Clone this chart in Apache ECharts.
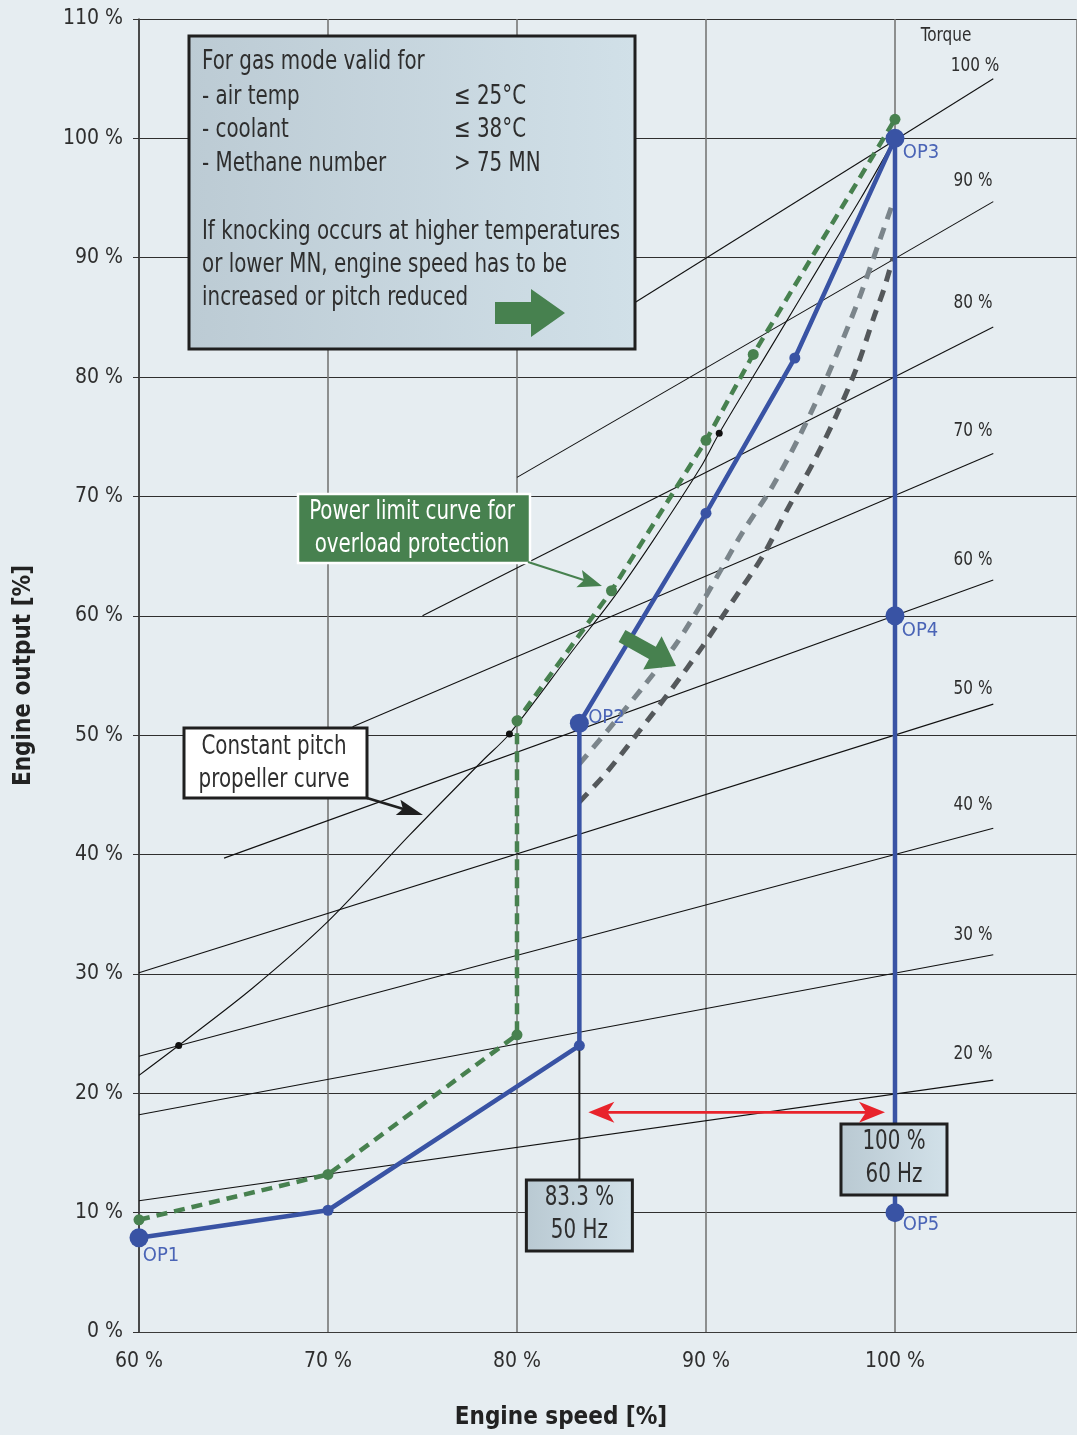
<!DOCTYPE html>
<html>
<head>
<meta charset="utf-8">
<title>Engine operating range – gas mode</title>
<script src="https://cdn.jsdelivr.net/npm/echarts@6/dist/echarts.min.js"></script>
<style>
  html, body { margin: 0; padding: 0; background: #e6edf1; }
  #chart { width: 1077px; height: 1435px; }
</style>
</head>
<body>
<div id="chart"></div>
<script>
// ---------- data ----------
const speedTicks = [60, 70, 80, 90, 100];
const outputTicks = [0, 10, 20, 30, 40, 50, 60, 70, 80, 90, 100, 110];

// operating line (engine speed %, engine output %)
const operatingLine = [[60, 7.9], [70, 10.2], [83.3, 24.0], [83.3, 51.0], [90, 68.6], [94.7, 81.6], [100, 100], [100, 60], [100, 10]];

const opNames = ['OP1', 'OP2', 'OP3', 'OP4', 'OP5'];
const opSpeed = [60, 83.3, 100, 100, 100];
const opOutput = [7.9, 51.0, 100, 60, 10];

// power limit curve for overload protection
const powerLimitCurve = [[60, 9.4], [70, 13.2], [80, 24.9], [80, 51.2], [85, 62.1], [90, 74.7], [92.5, 81.9], [100, 101.6]];

// operating line shifted by higher speed / reduced pitch
const shiftedLightCurve = [[83.3, 47.6], [84.8, 50.4], [86.7, 54.1], [88.4, 57.6], [89.9, 61.4], [91.9, 66.9], [93.5, 70.8], [94.9, 74.9], [96.1, 78.9], [97.2, 83.0], [98.2, 87.0], [99.2, 91.5], [99.8, 94.2]];
const shiftedDarkCurve = [[83.3, 44.4], [84.7, 46.8], [86.4, 50.2], [88.2, 53.9], [89.8, 57.4], [91.4, 61.2], [93.0, 65.0], [94.3, 68.9], [95.7, 72.9], [96.9, 76.8], [98.0, 80.9], [98.9, 85.1], [99.4, 87.3], [99.9, 90.0]];

// constant pitch propeller curve
const propellerCurve = [[60, 21.5], [62.1, 24.0], [66, 28.8], [70, 34.4], [74.3, 41.6], [78.2, 47.9], [79.6, 50.1], [83.0, 57.2], [85.1, 61.5], [87.2, 66.3], [89.7, 72.4], [90.7, 75.3], [93.7, 83.2], [96.2, 89.8], [98.2, 95.0], [100, 100]];
const propellerDots = [[62.1, 24.0], [79.6, 50.1], [90.7, 75.3]];

// constant torque lines
const torqueLabels = ['100 %', '90 %', '80 %', '70 %', '60 %', '50 %', '40 %', '30 %', '20 %'];
const torqueFrom = [[86.2, 86.2], [80.0, 71.6], [75.0, 60.0], [71.3, 50.7], [64.5, 39.7], [60, 30.1], [60, 23.1], [60, 18.2], [60, 11.0]];
const torqueTo = [[105.2, 105.0], [105.2, 94.7], [105.2, 84.2], [105.2, 73.6], [105.2, 63.0], [105.2, 52.6], [105.2, 42.2], [105.2, 31.6], [105.2, 21.1]];

// 50 Hz / 60 Hz speed range
const speedRange = [83.3, 100];
const speedRangeOutput = 18.4;
const rangeLabels = [['83.3 %', '50 Hz'], ['100 %', '60 Hz']];

const noteLines = ['For gas mode valid for', '- air temp', '- coolant', '- Methane number', '',
  'If knocking occurs at higher temperatures', 'or lower MN, engine speed has to be', 'increased or pitch reduced'];
const noteLimits = ['', '≤ 25°C', '≤ 38°C', '> 75 MN'];

// ---------- style ----------
const FONT = "'Liberation Sans Narrow', 'DejaVu Sans Condensed', 'Roboto Condensed', Roboto, sans-serif";
const TEXT = '#2e2e2e';
const BLUE = '#3953a4';
const BLUE_LABEL = '#4a64b6';
const GREEN = '#47814f';
const RED = '#e8232b';
const NARROW = 0.85;   // horizontal squeeze for the condensed annotation lettering

const chart = echarts.init(document.getElementById('chart'));

const opLabelOffset = { OP1: [22, 18], OP2: [27, -5], OP3: [26, 14], OP4: [25, 15], OP5: [26, 12] };

const option = {
  backgroundColor: '#e6edf1',
  animation: false,
  grid: { left: 139, right: 0, top: 19, bottom: 103 },
  xAxis: {
    type: 'value', min: 60, max: 109.63, interval: 10,
    axisLine: { show: true, lineStyle: { color: '#3a3a3a', width: 1.2 } },
    axisTick: { show: false },
    axisLabel: {
      margin: 19, fontFamily: FONT, fontSize: 21, color: TEXT, showMaxLabel: false,
      formatter: v => speedTicks.includes(v) ? v + ' %' : ''
    },
    splitLine: { show: true, lineStyle: { color: '#777', width: 1.6 } },
    name: 'Engine speed [%]', nameLocation: 'middle', nameGap: 74,
    nameTextStyle: { fontFamily: FONT, fontWeight: 'bold', fontSize: 24, color: '#222', padding: [0, 94, 0, 0] }
  },
  yAxis: {
    type: 'value', min: 0, max: 110, interval: 10,
    axisLine: { show: true, lineStyle: { color: '#333', width: 1.5 } },
    axisTick: { show: true, length: 6, lineStyle: { color: '#333' } },
    axisLabel: {
      margin: 16, fontFamily: FONT, fontSize: 21, color: TEXT,
      formatter: v => outputTicks.includes(v) ? v + ' %' : ''
    },
    splitLine: { show: true, lineStyle: { color: '#2f2f2f', width: 1.1 } },
    name: 'Engine output [%]', nameLocation: 'middle', nameGap: 103, nameRotate: 90,
    nameTextStyle: { fontFamily: FONT, fontWeight: 'bold', fontSize: 24, color: '#222' }
  },
  series: [
    {
      name: 'Torque', type: 'lines', coordinateSystem: 'cartesian2d', silent: true, z: 2,
      lineStyle: { color: '#111', width: 1.1, opacity: 1 },
      data: torqueFrom.map((p, i) => ({ name: torqueLabels[i], coords: [p, torqueTo[i]] }))
    },
    {
      name: 'Constant pitch propeller curve', type: 'line', data: propellerCurve, smooth: 0.3,
      showSymbol: false, z: 3, lineStyle: { color: '#111', width: 1.1 }
    },
    {
      type: 'scatter', data: propellerDots, symbolSize: 7, z: 4, itemStyle: { color: '#111', opacity: 1 }
    },
    {
      name: 'Shifted (light)', type: 'line', data: shiftedLightCurve, smooth: 0.3, showSymbol: false, z: 5,
      lineStyle: { color: '#7b858b', width: 5, type: [12, 9] }
    },
    {
      name: 'Shifted (dark)', type: 'line', data: shiftedDarkCurve, smooth: 0.3, showSymbol: false, z: 5,
      lineStyle: { color: '#54585b', width: 5, type: [12, 9] }
    },
    {
      name: 'Power limit curve', type: 'line', data: powerLimitCurve, z: 6,
      symbol: 'circle', symbolSize: 11, itemStyle: { color: GREEN },
      lineStyle: { color: GREEN, width: 4.5, type: [11, 7] }
    },
    {
      name: 'Operating line', type: 'line', data: operatingLine, z: 7,
      symbol: 'circle', symbolSize: 11, itemStyle: { color: BLUE },
      lineStyle: { color: BLUE, width: 4.5 }
    },
    {
      name: 'Operating points', type: 'scatter', z: 8, symbolSize: 19, itemStyle: { color: BLUE, opacity: 1 },
      data: opNames.map((n, i) => ({
        name: n, value: [opSpeed[i], opOutput[i]],
        label: { offset: opLabelOffset[n] }
      })),
      label: {
        show: true, position: 'inside', formatter: '{b}',
        fontFamily: FONT, fontSize: 20, color: BLUE_LABEL
      }
    }
  ]
};

chart.setOption(option);

// ---------- annotations ----------
const P = (x, y) => chart.convertToPixel({ gridIndex: 0 }, [x, y]);

function arrowHead(tip, from, len, half, notch) {
  const dx = tip[0] - from[0], dy = tip[1] - from[1], L = Math.hypot(dx, dy);
  const ux = dx / L, uy = dy / L, nx = -uy, ny = ux;
  const bx = tip[0] - ux * len, by = tip[1] - uy * len;
  return [tip, [bx + nx * half, by + ny * half], [tip[0] - ux * (len - notch), tip[1] - uy * (len - notch)], [bx - nx * half, by - ny * half]];
}
function fatArrow(from, tip, shaftHalf, headHalf, headLen) {
  const dx = tip[0] - from[0], dy = tip[1] - from[1], L = Math.hypot(dx, dy);
  const ux = dx / L, uy = dy / L, nx = -uy, ny = ux;
  const b = [tip[0] - ux * headLen, tip[1] - uy * headLen];
  return [
    [from[0] + nx * shaftHalf, from[1] + ny * shaftHalf], [b[0] + nx * shaftHalf, b[1] + ny * shaftHalf],
    [b[0] + nx * headHalf, b[1] + ny * headHalf], tip, [b[0] - nx * headHalf, b[1] - ny * headHalf],
    [b[0] - nx * shaftHalf, b[1] - ny * shaftHalf], [from[0] - nx * shaftHalf, from[1] - ny * shaftHalf]
  ];
}
const hGrad = (a, b) => ({ type: 'linear', x: 0, y: 0, x2: 1, y2: 0, colorStops: [{ offset: 0, color: a }, { offset: 1, color: b }] });
const txt = (text, x, y, size, fill, align) => ({
  type: 'text', x, y, scaleX: NARROW, z: 60, silent: true,
  style: { text, fontFamily: FONT, fontSize: size, fill: fill || TEXT, align: align || 'left', verticalAlign: 'middle' }
});

const g = [];

// note box
g.push({ type: 'rect', z: 55, shape: { x: 189, y: 36, width: 446, height: 313 },
  style: { fill: hGrad('#bccbd4', '#d1e0e8'), stroke: '#1f1f1f', lineWidth: 3 } });
const noteY = [62, 97, 130, 164, 198, 232, 265, 298];
noteLines.forEach((t, i) => { if (t) g.push(txt(t, 202, noteY[i], 26)); });
noteLimits.forEach((t, i) => { if (t) g.push(txt(t, 454, noteY[i], 26)); });
g.push({ type: 'polygon', z: 60, shape: { points: fatArrow([495, 313], [565, 313], 11, 24, 34) }, style: { fill: GREEN } });

// power limit label
g.push({ type: 'rect', z: 55, shape: { x: 298, y: 494, width: 232, height: 69 },
  style: { fill: GREEN, stroke: '#ffffff', lineWidth: 2.5 } });
g.push(txt('Power limit curve for', 412, 512, 26, '#ffffff', 'center'));
g.push(txt('overload protection', 412, 545, 26, '#ffffff', 'center'));
g.push({ type: 'line', z: 55, shape: { x1: 528, y1: 562, x2: 590, y2: 582 }, style: { stroke: GREEN, lineWidth: 2.2 } });
g.push({ type: 'polygon', z: 55, shape: { points: arrowHead([602, 586], [528, 562], 24, 9, 5) }, style: { fill: GREEN } });

// propeller curve label
g.push({ type: 'rect', z: 55, shape: { x: 184, y: 728, width: 183, height: 70 },
  style: { fill: '#ffffff', stroke: '#1f1f1f', lineWidth: 3 } });
g.push(txt('Constant pitch', 274, 747, 26, TEXT, 'center'));
g.push(txt('propeller curve', 274, 780, 26, TEXT, 'center'));
g.push({ type: 'line', z: 55, shape: { x1: 367, y1: 798, x2: 410, y2: 811 }, style: { stroke: '#1f1f1f', lineWidth: 2.6 } });
g.push({ type: 'polygon', z: 55, shape: { points: arrowHead([423, 815], [367, 798], 26, 8, 5) }, style: { fill: '#1f1f1f' } });

// shift direction arrow
g.push({ type: 'polygon', z: 55, shape: { points: fatArrow([622, 636], [676, 666], 7, 19, 27) }, style: { fill: GREEN } });

// 50 Hz / 60 Hz boxes
const p50 = P(speedRange[0], operatingLine[2][1]);
const x50 = P(speedRange[0], 0)[0];
const x60 = P(speedRange[1], 0)[0];
g.push({ type: 'line', z: 54, shape: { x1: x50, y1: p50[1] + 5, x2: x50, y2: 1180 }, style: { stroke: '#1f1f1f', lineWidth: 2 } });
[[x50, 1180], [x60 - 1, 1124]].forEach(([cx, top], i) => {
  g.push({ type: 'rect', z: 55, shape: { x: cx - 53, y: top, width: 106, height: 71 },
    style: { fill: hGrad('#b9c9d2', '#d2e1e9'), stroke: '#1f1f1f', lineWidth: 3 } });
  g.push(txt(rangeLabels[i][0], cx, top + 18, 26, TEXT, 'center'));
  g.push(txt(rangeLabels[i][1], cx, top + 51, 26, TEXT, 'center'));
});

// speed range arrow
const yr = P(0, speedRangeOutput)[1];
const xl = x50 + 9, xr = x60 - 10;
g.push({ type: 'line', z: 55, shape: { x1: xl + 10, y1: yr, x2: xr - 10, y2: yr }, style: { stroke: RED, lineWidth: 2.6 } });
g.push({ type: 'polygon', z: 55, shape: { points: arrowHead([xl, yr], [xr, yr], 26, 10.5, 7) }, style: { fill: RED } });
g.push({ type: 'polygon', z: 55, shape: { points: arrowHead([xr, yr], [xl, yr], 26, 10.5, 7) }, style: { fill: RED } });

// torque labels
g.push(txt('Torque', 946, 36, 20, TEXT, 'center'));
const torqueLabelY = [66, 181, 303, 431, 560, 689, 805, 935, 1054];
torqueLabels.forEach((t, i) => g.push(txt(t, i === 0 ? 975 : 973, torqueLabelY[i], 20, TEXT, 'center')));

chart.setOption({ graphic: g });
</script>
</body>
</html>
